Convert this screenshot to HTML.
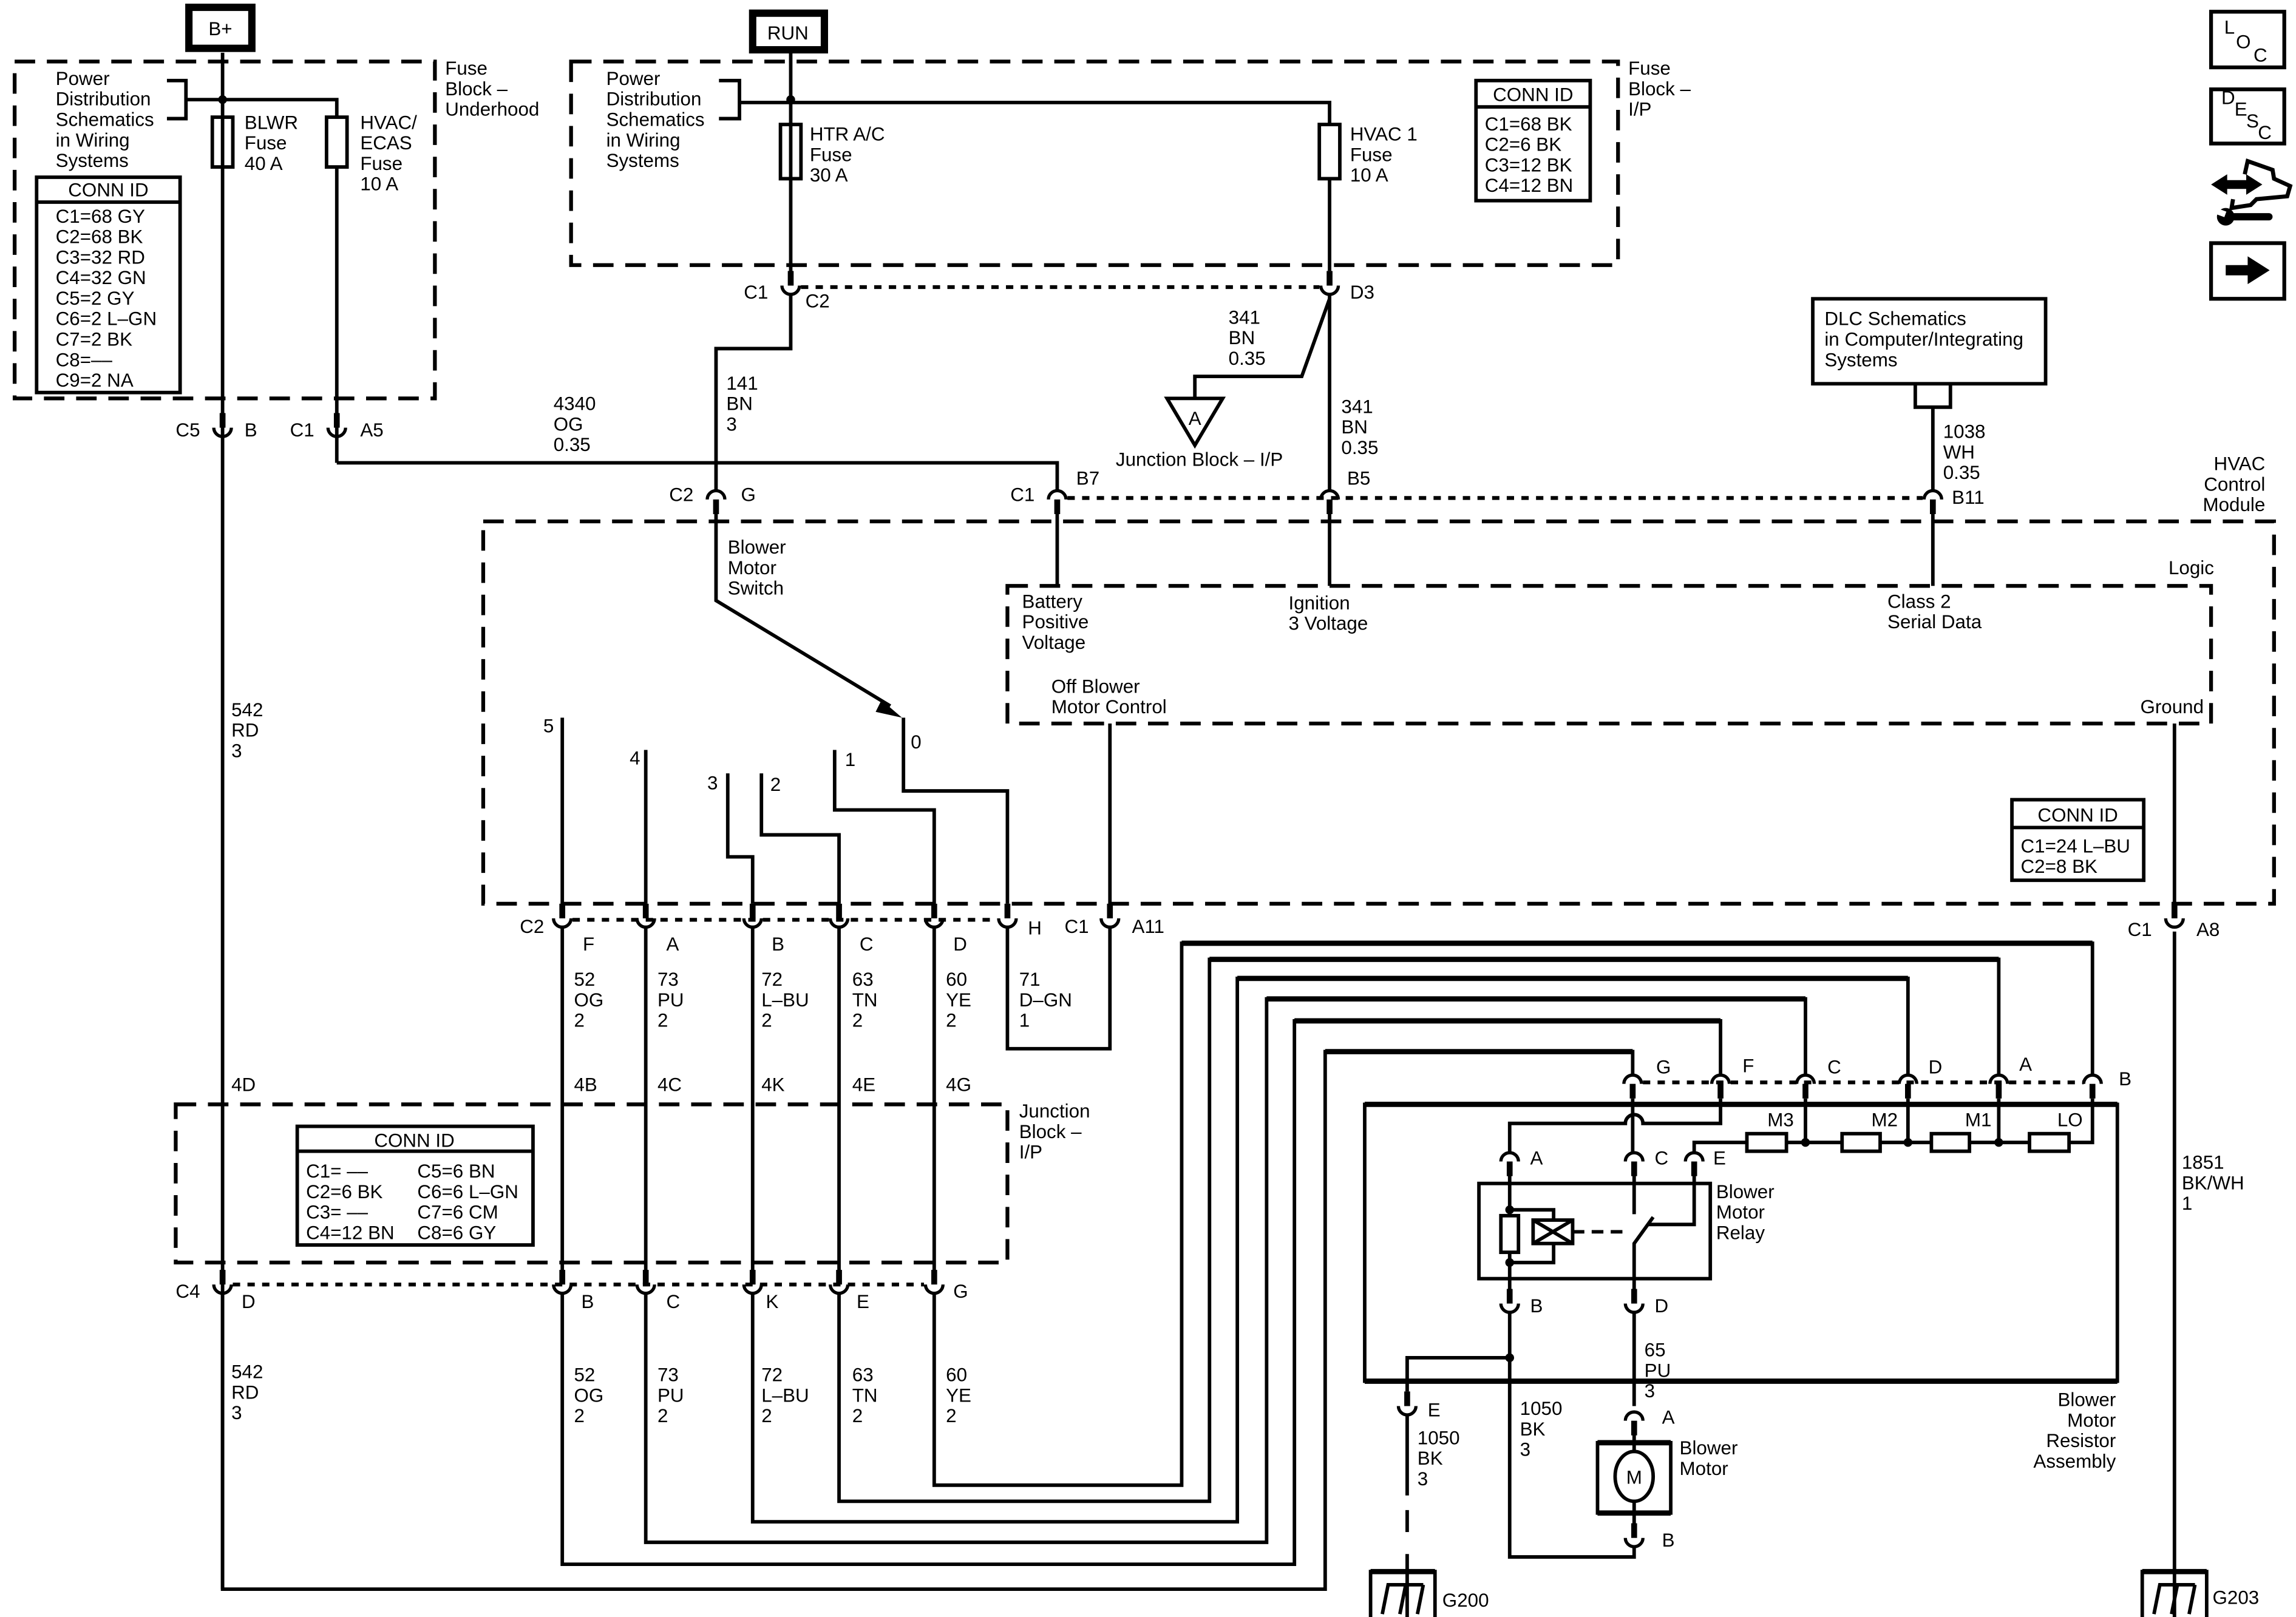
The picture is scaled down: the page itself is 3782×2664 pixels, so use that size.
<!DOCTYPE html>
<html><head><meta charset="utf-8"><style>
html,body{margin:0;padding:0;background:#fff}
svg{display:block}
text{font-family:"Liberation Sans",Arial,sans-serif;font-size:13px;fill:#000}
</style></head><body>
<svg width="3782" height="2664" viewBox="0 0 1568 1104" preserveAspectRatio="none" xmlns="http://www.w3.org/2000/svg">
<defs>
<g id="cap"><path d="M-6,3 A6,6 0 0 1 6,3" stroke="#000" stroke-width="2.2" fill="none"/><rect x="-2" y="3" width="4" height="10" fill="#000"/></g>
<g id="cup"><rect x="-2" y="-13" width="4" height="10" fill="#000"/><path d="M-6,-3 A6,6 0 0 0 6,-3" stroke="#000" stroke-width="2.2" fill="none"/></g>
</defs>
<rect width="1568" height="1104" fill="#fff"/>
<g stroke="#000" stroke-width="2.4" fill="none">
<rect x="129" y="5" width="43" height="28" stroke-width="5"/>
<rect x="514" y="9" width="49" height="25" stroke-width="5"/>
<g stroke-dasharray="14 8" stroke-width="2.6">
<rect x="10" y="42" width="287" height="230"/>
<rect x="390" y="42" width="715" height="139"/>
<rect x="330" y="356" width="1223" height="261"/>
<rect x="688" y="400" width="822" height="94"/>
<rect x="120" y="754" width="568" height="108"/>
</g>
<g stroke-dasharray="5 5" stroke-width="2.6">
<line x1="547" y1="196" x2="901" y2="196"/>
<line x1="729" y1="340" x2="1313" y2="340"/>
<line x1="391" y1="628" x2="681" y2="628"/>
<line x1="159" y1="877" x2="631" y2="877"/>
<line x1="1122" y1="739" x2="1423" y2="739"/>
</g>
<path d="M114,55 H127 V81 H114"/>
<path d="M127,68 H230 V80"/>
<line x1="152" y1="36" x2="152" y2="1085"/>
<line x1="230" y1="114" x2="230" y2="316"/>
<rect x="145" y="80" width="14" height="34"/>
<rect x="223" y="80" width="14" height="34"/>
<rect x="25" y="121" width="98" height="147"/>
<line x1="25" y1="138" x2="123" y2="138"/>
<path d="M230,316 H722 V335"/>
<path d="M491,55 H505 V81 H491"/>
<path d="M505,70 H908 V85"/>
<line x1="540" y1="36" x2="540" y2="195"/>
<rect x="533" y="85" width="14" height="37"/>
<rect x="901" y="85" width="14" height="37"/>
<rect x="1008" y="55" width="78" height="82"/>
<line x1="1008" y1="73" x2="1086" y2="73"/>
<path d="M540,201 V238 H489 V335"/>
<line x1="908" y1="122" x2="908" y2="185"/>
<path d="M908,204 L889,257 H816 V272"/>
<path d="M797,272 H835 L816,304 Z"/>
<line x1="908" y1="201" x2="908" y2="335"/>
<rect x="1238" y="204" width="159" height="58"/>
<path d="M1308,263 V278 H1332 V263"/>
<line x1="1320" y1="278" x2="1320" y2="335"/>
<path d="M489,351 V410 L608,482"/>
<line x1="722" y1="351" x2="722" y2="400"/>
<line x1="908" y1="351" x2="908" y2="400"/>
<line x1="1320" y1="351" x2="1320" y2="400"/>
<line x1="758" y1="494" x2="758" y2="625"/>
<line x1="1485" y1="494" x2="1485" y2="625"/>
<line x1="384" y1="490" x2="384" y2="617"/>
<line x1="441" y1="512" x2="441" y2="617"/>
<path d="M497,528 V585 H514 V617"/>
<path d="M520,528 V570 H573 V617"/>
<path d="M570,512 V553 H638 V617"/>
<path d="M617,490 V540 H688 V617"/>
<path d="M688,633 V716 H758 V633"/>
<rect x="1374" y="546" width="90" height="55"/>
<line x1="1374" y1="565" x2="1464" y2="565"/>
<line x1="384" y1="633" x2="384" y2="875"/>
<line x1="441" y1="633" x2="441" y2="875"/>
<line x1="514" y1="633" x2="514" y2="875"/>
<line x1="573" y1="633" x2="573" y2="875"/>
<line x1="638" y1="633" x2="638" y2="875"/>
<rect x="203" y="769" width="161" height="81"/>
<line x1="203" y1="786" x2="364" y2="786"/>
<path d="M638,883 V1014 H807 V644 H1429 V734"/>
<path d="M573,883 V1025 H826 V655 H1365 V734"/>
<path d="M514,883 V1039 H845 V668 H1303 V734"/>
<path d="M441,883 V1053 H865 V682 H1233 V734"/>
<path d="M384,883 V1068 H884 V697 H1175 V734"/>
<path d="M152,883 V1085 H905 V718 H1115 V734"/>
<rect x="932" y="754" width="514" height="189"/>
<line x1="1233" y1="750" x2="1233" y2="780"/>
<line x1="1303" y1="750" x2="1303" y2="780"/>
<line x1="1365" y1="750" x2="1365" y2="780"/>
<path d="M1429,750 V780 H1157 V787"/>
<rect x="1193" y="774" width="27" height="12" fill="#fff"/>
<rect x="1258" y="774" width="26" height="12" fill="#fff"/>
<rect x="1319" y="774" width="26" height="12" fill="#fff"/>
<rect x="1386" y="774" width="27" height="12" fill="#fff"/>
<path d="M1175,750 V767 H1122 A6,6 0 0 0 1110,767 H1031 V787"/>
<line x1="1115" y1="750" x2="1115" y2="787"/>
<rect x="1010" y="808" width="158" height="65"/>
<line x1="1031" y1="800" x2="1031" y2="880"/>
<rect x="1025" y="830" width="12" height="25" fill="#fff"/>
<path d="M1031,826 H1061 V833"/>
<path d="M1031,862 H1061 V849"/>
<rect x="1047" y="833" width="27" height="16"/>
<path d="M1047,833 L1074,849 M1047,849 L1074,833"/>
<line x1="1074" y1="841" x2="1112" y2="841" stroke-dasharray="8 5"/>
<line x1="1116" y1="800" x2="1116" y2="829"/>
<path d="M1116,880 V849 L1129,831"/>
<path d="M1125,836 H1157 V800"/>
<path d="M1031,896 V1063 H1116 V1056"/>
<path d="M1031,927 H961 V950"/>
<line x1="1116" y1="896" x2="1116" y2="960"/>
<line x1="961" y1="966" x2="961" y2="1021"/>
<line x1="961" y1="1031" x2="961" y2="1046"/>
<line x1="961" y1="1061" x2="961" y2="1104"/>
<rect x="1091" y="985" width="50" height="48"/>
<ellipse cx="1116" cy="1008" rx="13" ry="17" fill="#fff"/>
<line x1="1116" y1="973" x2="1116" y2="991"/>
<line x1="1116" y1="1025" x2="1116" y2="1043"/>
<path d="M936,1104 V1073 H980 V1104"/>
<path d="M944,1102 L948,1082 H972 M956,1102 L960,1082 M968,1102 L972,1082"/>
<line x1="1485" y1="636" x2="1485" y2="1104"/>
<path d="M1463,1104 V1073 H1507 V1104"/>
<path d="M1471,1102 L1475,1082 H1499 M1483,1102 L1487,1082 M1495,1102 L1499,1082"/>
<rect x="1510" y="8" width="50" height="38" stroke-width="2.6"/>
<rect x="1510" y="61" width="50" height="37" stroke-width="2.6"/>
<rect x="1510" y="166" width="50" height="38" stroke-width="2.6"/>
<path d="M1533,119 L1535,110 L1552,116 L1553,122 L1564,127 L1562,134 L1541,136 L1537,140 L1524,142 L1525,136" stroke-width="2.8"/>
</g>
<g stroke="#000" stroke-width="3.6" fill="none">
<line x1="807" y1="644" x2="1429" y2="644"/>
<line x1="826" y1="655" x2="1365" y2="655"/>
<line x1="845" y1="668" x2="1303" y2="668"/>
<line x1="865" y1="682" x2="1233" y2="682"/>
<line x1="884" y1="697" x2="1175" y2="697"/>
<line x1="905" y1="718" x2="1115" y2="718"/>
<line x1="932" y1="754" x2="1446" y2="754"/>
<line x1="932" y1="943" x2="1446" y2="943"/>
<line x1="936" y1="1073" x2="980" y2="1073"/>
<line x1="1463" y1="1073" x2="1507" y2="1073"/>
<line x1="1091" y1="985" x2="1141" y2="985"/>
<line x1="1091" y1="1033" x2="1141" y2="1033"/>
</g>
<g fill="#000">
<circle cx="152" cy="68" r="3"/><circle cx="540" cy="68" r="3"/>
<circle cx="1233" cy="780" r="3"/><circle cx="1303" cy="780" r="3"/><circle cx="1365" cy="780" r="3"/>
<circle cx="1031" cy="826" r="3"/><circle cx="1031" cy="862" r="3"/><circle cx="1031" cy="927" r="3"/>
<path d="M602,478 L616,490 L598,486 Z"/>
<path d="M1510,126 L1521,119 L1521,123 L1534,123 L1534,119 L1545,126 L1534,133 L1534,129 L1521,129 L1521,133 Z"/>
<path d="M1520,181 H1535 V175 L1550,184.5 L1535,194 V188 H1520 Z"/>
<circle cx="1520" cy="148" r="6"/>
<rect x="1520" y="145.5" width="32" height="5" rx="2.5"/>
</g>
<rect x="1513" y="143" width="7" height="4" fill="#fff" transform="rotate(20 1516 145)"/>
<use href="#cup" x="152" y="295"/><use href="#cup" x="230" y="295"/>
<use href="#cup" x="540" y="198"/><use href="#cup" x="908" y="198"/>
<use href="#cap" x="489" y="338"/><use href="#cap" x="722" y="338"/><use href="#cap" x="908" y="338"/><use href="#cap" x="1320" y="338"/>
<use href="#cup" x="384" y="630"/><use href="#cup" x="441" y="630"/><use href="#cup" x="514" y="630"/><use href="#cup" x="573" y="630"/><use href="#cup" x="638" y="630"/><use href="#cup" x="688" y="630"/>
<use href="#cup" x="758" y="630"/><use href="#cup" x="1485" y="630"/>
<use href="#cup" x="152" y="880"/><use href="#cup" x="384" y="880"/><use href="#cup" x="441" y="880"/><use href="#cup" x="514" y="880"/><use href="#cup" x="573" y="880"/><use href="#cup" x="638" y="880"/>
<use href="#cap" x="1115" y="737"/><use href="#cap" x="1175" y="737"/><use href="#cap" x="1233" y="737"/><use href="#cap" x="1303" y="737"/><use href="#cap" x="1365" y="737"/><use href="#cap" x="1429" y="737"/>
<use href="#cap" x="1031" y="790"/><use href="#cap" x="1116" y="790"/><use href="#cap" x="1157" y="790"/>
<use href="#cup" x="1031" y="893"/><use href="#cup" x="1116" y="893"/>
<use href="#cup" x="961" y="963"/>
<use href="#cap" x="1116" y="967"/><use href="#cup" x="1116" y="1053"/>
<text x="150.5" y="24" font-size="14" text-anchor="middle">B+</text>
<text x="524" y="27" font-size="14">RUN</text>
<text x="38" y="58">Power</text><text x="38" y="72">Distribution</text><text x="38" y="86">Schematics</text><text x="38" y="100">in Wiring</text><text x="38" y="114">Systems</text>
<text x="167" y="88">BLWR</text><text x="167" y="102">Fuse</text><text x="167" y="116">40 A</text>
<text x="246" y="88">HVAC/</text><text x="246" y="102">ECAS</text><text x="246" y="116">Fuse</text><text x="246" y="130">10 A</text>
<text x="304" y="51">Fuse</text><text x="304" y="65">Block –</text><text x="304" y="79">Underhood</text>
<text x="74" y="134" text-anchor="middle">CONN ID</text>
<text x="38" y="152">C1=68 GY</text><text x="38" y="166">C2=68 BK</text><text x="38" y="180">C3=32 RD</text><text x="38" y="194">C4=32 GN</text><text x="38" y="208">C5=2 GY</text><text x="38" y="222">C6=2 L–GN</text><text x="38" y="236">C7=2 BK</text><text x="38" y="250">C8=––</text><text x="38" y="264">C9=2 NA</text>
<text x="414" y="58">Power</text><text x="414" y="72">Distribution</text><text x="414" y="86">Schematics</text><text x="414" y="100">in Wiring</text><text x="414" y="114">Systems</text>
<text x="553" y="96">HTR A/C</text><text x="553" y="110">Fuse</text><text x="553" y="124">30 A</text>
<text x="922" y="96">HVAC 1</text><text x="922" y="110">Fuse</text><text x="922" y="124">10 A</text>
<text x="1112" y="51">Fuse</text><text x="1112" y="65">Block –</text><text x="1112" y="79">I/P</text>
<text x="1047" y="69" text-anchor="middle">CONN ID</text>
<text x="1014" y="89">C1=68 BK</text><text x="1014" y="103">C2=6 BK</text><text x="1014" y="117">C3=12 BK</text><text x="1014" y="131">C4=12 BN</text>
<text x="120" y="298">C5</text><text x="167" y="298">B</text><text x="198" y="298">C1</text><text x="246" y="298">A5</text>
<text x="508" y="204">C1</text><text x="550" y="210">C2</text><text x="922" y="204">D3</text>
<text x="839" y="221">341</text><text x="839" y="235">BN</text><text x="839" y="249">0.35</text>
<text x="816" y="290" text-anchor="middle" font-size="12">A</text>
<text x="762" y="318">Junction Block – I/P</text>
<text x="496" y="266">141</text><text x="496" y="280">BN</text><text x="496" y="294">3</text>
<text x="378" y="280">4340</text><text x="378" y="294">OG</text><text x="378" y="308">0.35</text>
<text x="916" y="282">341</text><text x="916" y="296">BN</text><text x="916" y="310">0.35</text>
<text x="1246" y="222">DLC Schematics</text><text x="1246" y="236">in Computer/Integrating</text><text x="1246" y="250">Systems</text>
<text x="1327" y="299">1038</text><text x="1327" y="313">WH</text><text x="1327" y="327">0.35</text>
<text x="1547" y="321" text-anchor="end">HVAC</text><text x="1547" y="335" text-anchor="end">Control</text><text x="1547" y="349" text-anchor="end">Module</text>
<text x="457" y="342">C2</text><text x="506" y="342">G</text><text x="690" y="342">C1</text><text x="735" y="331">B7</text><text x="920" y="331">B5</text><text x="1333" y="344">B11</text>
<text x="497" y="378">Blower</text><text x="497" y="392">Motor</text><text x="497" y="406">Switch</text>
<text x="1512" y="392" text-anchor="end">Logic</text>
<text x="698" y="415">Battery</text><text x="698" y="429">Positive</text><text x="698" y="443">Voltage</text>
<text x="880" y="416">Ignition</text><text x="880" y="430">3 Voltage</text>
<text x="1289" y="415">Class 2</text><text x="1289" y="429">Serial Data</text>
<text x="718" y="473">Off Blower</text><text x="718" y="487">Motor Control</text>
<text x="1505" y="487" text-anchor="end">Ground</text>
<text x="371" y="500">5</text><text x="430" y="522">4</text><text x="483" y="539">3</text><text x="526" y="540">2</text><text x="577" y="523">1</text><text x="622" y="511">0</text>
<text x="1419" y="561" text-anchor="middle">CONN ID</text>
<text x="1380" y="582">C1=24 L–BU</text><text x="1380" y="596">C2=8 BK</text>
<text x="355" y="637">C2</text><text x="398" y="649">F</text><text x="455" y="649">A</text><text x="527" y="649">B</text><text x="587" y="649">C</text><text x="651" y="649">D</text><text x="702" y="638">H</text>
<text x="727" y="637">C1</text><text x="773" y="637">A11</text><text x="1453" y="639">C1</text><text x="1500" y="639">A8</text>
<text x="392" y="673">52</text><text x="392" y="687">OG</text><text x="392" y="701">2</text>
<text x="449" y="673">73</text><text x="449" y="687">PU</text><text x="449" y="701">2</text>
<text x="520" y="673">72</text><text x="520" y="687">L–BU</text><text x="520" y="701">2</text>
<text x="582" y="673">63</text><text x="582" y="687">TN</text><text x="582" y="701">2</text>
<text x="646" y="673">60</text><text x="646" y="687">YE</text><text x="646" y="701">2</text>
<text x="696" y="673">71</text><text x="696" y="687">D–GN</text><text x="696" y="701">1</text>
<text x="158" y="489">542</text><text x="158" y="503">RD</text><text x="158" y="517">3</text>
<text x="158" y="745">4D</text><text x="392" y="745">4B</text><text x="449" y="745">4C</text><text x="520" y="745">4K</text><text x="582" y="745">4E</text><text x="646" y="745">4G</text>
<text x="696" y="763">Junction</text><text x="696" y="777">Block –</text><text x="696" y="791">I/P</text>
<text x="283" y="783" text-anchor="middle">CONN ID</text>
<text x="209" y="804">C1= ––</text><text x="209" y="818">C2=6 BK</text><text x="209" y="832">C3= ––</text><text x="209" y="846">C4=12 BN</text>
<text x="285" y="804">C5=6 BN</text><text x="285" y="818">C6=6 L–GN</text><text x="285" y="832">C7=6 CM</text><text x="285" y="846">C8=6 GY</text>
<text x="120" y="886">C4</text><text x="165" y="893">D</text><text x="397" y="893">B</text><text x="455" y="893">C</text><text x="523" y="893">K</text><text x="585" y="893">E</text><text x="651" y="886">G</text>
<text x="158" y="941">542</text><text x="158" y="955">RD</text><text x="158" y="969">3</text>
<text x="392" y="943">52</text><text x="392" y="957">OG</text><text x="392" y="971">2</text>
<text x="449" y="943">73</text><text x="449" y="957">PU</text><text x="449" y="971">2</text>
<text x="520" y="943">72</text><text x="520" y="957">L–BU</text><text x="520" y="971">2</text>
<text x="582" y="943">63</text><text x="582" y="957">TN</text><text x="582" y="971">2</text>
<text x="646" y="943">60</text><text x="646" y="957">YE</text><text x="646" y="971">2</text>
<text x="1131" y="733">G</text><text x="1190" y="732">F</text><text x="1248" y="733">C</text><text x="1317" y="733">D</text><text x="1379" y="731">A</text><text x="1447" y="741">B</text>
<text x="1207" y="769">M3</text><text x="1278" y="769">M2</text><text x="1342" y="769">M1</text><text x="1405" y="769">LO</text>
<text x="1045" y="795">A</text><text x="1130" y="795">C</text><text x="1170" y="795">E</text>
<text x="1172" y="818">Blower</text><text x="1172" y="832">Motor</text><text x="1172" y="846">Relay</text>
<text x="1045" y="896">B</text><text x="1130" y="896">D</text>
<text x="1123" y="926">65</text><text x="1123" y="940">PU</text><text x="1123" y="954">3</text>
<text x="1445" y="960" text-anchor="end">Blower</text><text x="1445" y="974" text-anchor="end">Motor</text><text x="1445" y="988" text-anchor="end">Resistor</text><text x="1445" y="1002" text-anchor="end">Assembly</text>
<text x="975" y="967">E</text>
<text x="968" y="986">1050</text><text x="968" y="1000">BK</text><text x="968" y="1014">3</text>
<text x="1038" y="966">1050</text><text x="1038" y="980">BK</text><text x="1038" y="994">3</text>
<text x="1135" y="972">A</text><text x="1135" y="1056">B</text>
<text x="1116" y="1013" text-anchor="middle" font-size="12">M</text>
<text x="1147" y="993">Blower</text><text x="1147" y="1007">Motor</text>
<text x="1490" y="798">1851</text><text x="1490" y="812">BK/WH</text><text x="1490" y="826">1</text>
<text x="985" y="1097">G200</text><text x="1511" y="1095">G203</text>
<text x="1519" y="23" font-size="12">L</text><text x="1527" y="33" font-size="13">O</text><text x="1539" y="42" font-size="13">C</text>
<text x="1517" y="71" font-size="12">D</text><text x="1526" y="79" font-size="12">E</text><text x="1534" y="87" font-size="12">S</text><text x="1542" y="95" font-size="12">C</text>
</svg>
</body></html>
